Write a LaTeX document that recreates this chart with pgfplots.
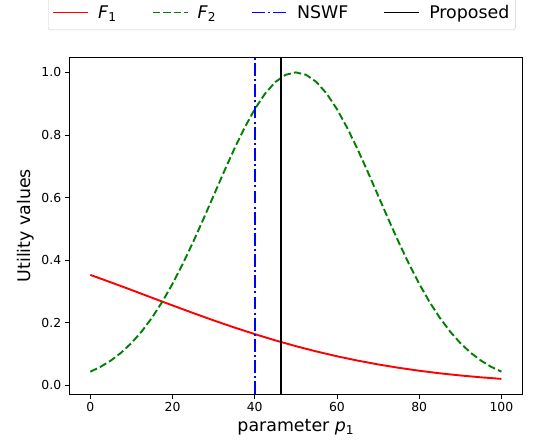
\documentclass[border=0pt]{standalone}
\usepackage{fontspec}
\setmainfont{DejaVu Sans}
\usepackage{pgfplots}
\pgfplotsset{compat=1.18}
\usetikzlibrary{calc}
\pgfplotsset{legend image code/.code={\draw[#1] (0pt,0pt) -- (35pt,0pt);}}
\begin{document}
\begin{tikzpicture}
\begin{axis}[
  name=ax,
  scale only axis,
  width=452pt, height=337pt,
  xmin=-5, xmax=105, ymin=-0.028, ymax=1.049,
  xtick={0,20,40,60,80,100},
  ytick={0,0.2,0.4,0.6,0.8,1.0},
  yticklabel style={/pgf/number format/.cd, fixed, fixed zerofill, precision=1},
  /pgf/number format/assume math mode=true,
  tick align=outside, tick pos=left, major tick length=5pt,
  tick style={black, line width=0.8pt},
  axis line style={line width=0.8pt},
  ticklabel style={font=\fontsize{12.4}{14}\selectfont},
  label style={font=\fontsize{17.4}{20}\selectfont},
  xlabel={parameter \textit{p}\textsubscript{1}},
  ylabel={Utility values},
  legend columns=4,
  legend style={at={(0.469,1.080)}, anchor=south, draw=black!20, rounded corners=2pt,
    font=\fontsize{17.4}{20}\selectfont, inner xsep=4pt, inner ysep=8pt,
    /tikz/every odd column/.append style={column sep=7pt},
    /tikz/every even column/.append style={column sep=33pt}},
]
\addplot[red, line width=1.9pt] table {
x y
0 0.3531
5 0.3294
10 0.3050
15 0.2802
20 0.2556
25 0.2314
30 0.2078
35 0.1853
40 0.1640
45 0.1440
50 0.1255
55 0.1086
60 0.0932
65 0.0794
70 0.0672
75 0.0564
80 0.0470
85 0.0388
90 0.0319
95 0.0260
100 0.0210
};
\addlegendentry{\textit{F}\textsubscript{1}}
\addplot[color={rgb,1:red,0;green,0.5;blue,0}, line width=1.9pt, dash pattern=on 7.4pt off 3.2pt] table {
x y
0 0.043937
2.5 0.059588
5 0.079560
7.5 0.104580
10 0.135335
12.5 0.172424
15 0.216265
17.5 0.267054
20 0.324652
22.5 0.388562
25 0.457833
27.5 0.531102
30 0.606531
32.5 0.681949
35 0.754840
37.5 0.822588
40 0.882497
42.5 0.932114
45 0.969233
47.5 0.992218
50 1.000000
52.5 0.992218
55 0.969233
57.5 0.932114
60 0.882497
62.5 0.822588
65 0.754840
67.5 0.681949
70 0.606531
72.5 0.531102
75 0.457833
77.5 0.388562
80 0.324652
82.5 0.267054
85 0.216265
87.5 0.172424
90 0.135335
92.5 0.104580
95 0.079560
97.5 0.059588
100 0.043937
};
\addlegendentry{\textit{F}\textsubscript{2}}
\addplot[blue, line width=1.9pt, dash pattern=on 12.8pt off 3.2pt on 2pt off 3.2pt] coordinates {(40,-0.028) (40,1.049)};
\addlegendentry{NSWF}
\addplot[black, line width=1.9pt] coordinates {(46.4,-0.028) (46.4,1.049)};
\addlegendentry{Proposed}
\end{axis}
\pgfresetboundingbox
\path[use as bounding box] ($(ax.south west)+(-69.7pt,-48pt)$) rectangle ($(ax.north east)+(25pt,57pt)$);
\end{tikzpicture}
\end{document}
